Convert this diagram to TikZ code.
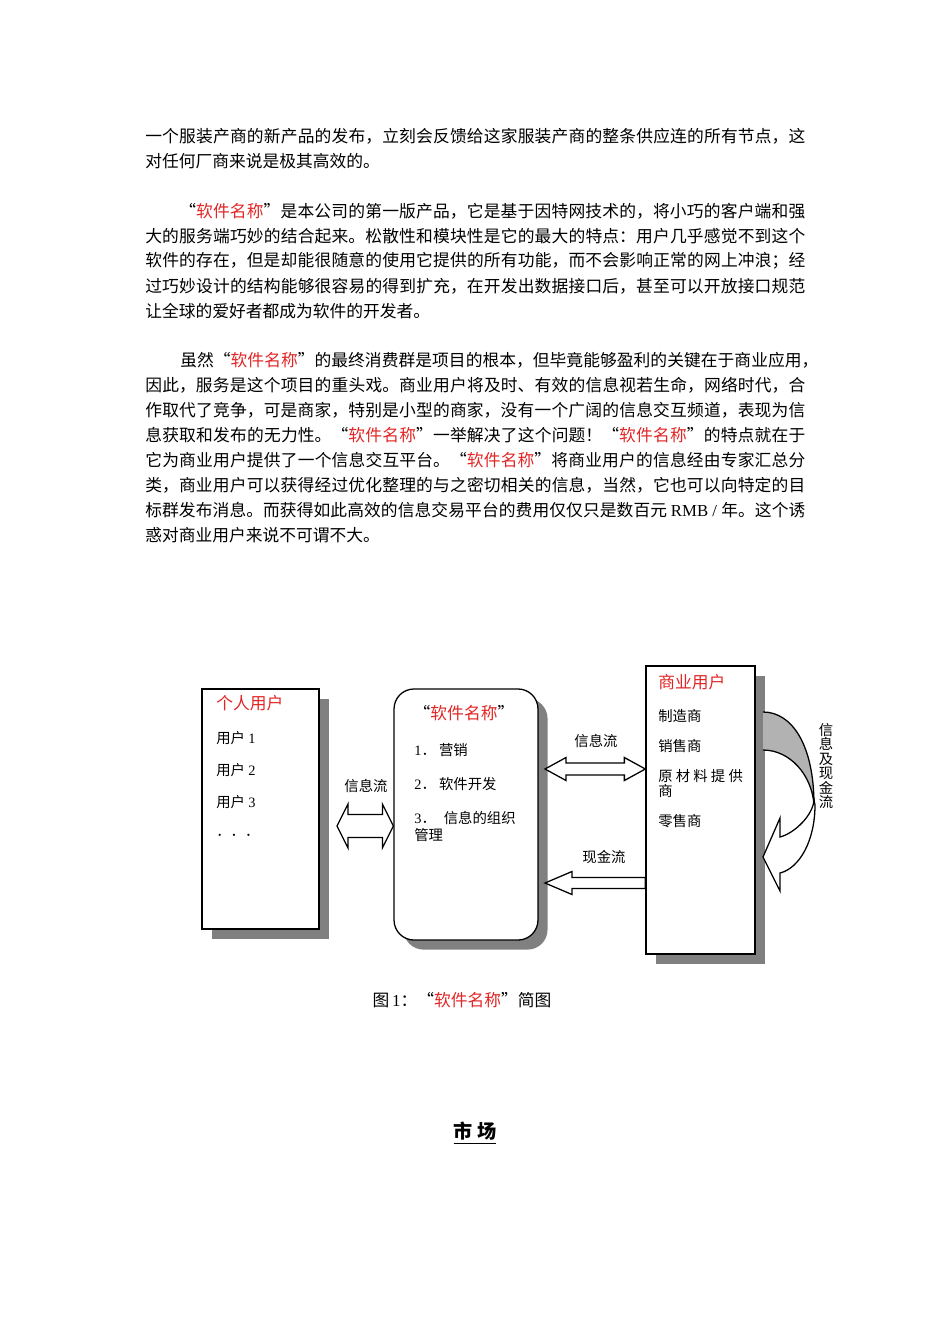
\documentclass[tikz,border=0pt]{standalone}
\usepackage{fontspec}
\setmainfont{Noto Sans CJK SC}
\newfontfamily\lat{Liberation Serif}
\usetikzlibrary{calc,shadows}
\definecolor{namered}{RGB}{226,38,38}
\newcommand{\swname}{\textcolor{namered}{软件名称}}
\newcommand{\fullline}[2]{\parbox{#1}{\parfillskip=0pt\relax #2}}
\XeTeXlinebreaklocale "zh"
\XeTeXlinebreakskip=0pt plus 2pt minus 0.3pt

\begin{document}
\begin{tikzpicture}[x=0.6266pt,y=-0.6266pt,
    textline/.style={anchor=west,inner sep=0pt,font=\fontsize{10.5pt}{12pt}\selectfont},
    userbox/.style={draw,line width=0.8pt,fill=white,
        drop shadow={shadow xshift=6pt,shadow yshift=-6pt,fill=black!50,opacity=1}},
    boxhead/.style={anchor=west,inner sep=0pt,text=namered,font=\fontsize{10.5pt}{12pt}\selectfont},
    boxitem/.style={anchor=west,inner sep=0pt,font=\fontsize{9pt}{10pt}\selectfont},
    flowlabel/.style={inner sep=0pt,font=\fontsize{9pt}{10pt}\selectfont},
    blockarrow/.style={draw,line width=0.8pt,fill=white}]
\useasboundingbox[fill=white] (0,0) rectangle (950,1344);

% text above the figure
\node[textline] (pa1) at (145,136) {\fullline{413.6pt}{一个服装产商的新产品的发布，立刻会反馈给这家服装产商的整条供应连的所有节点，这}};
\node[textline] (pa2) at (145,161) {对任何厂商来说是极其高效的。};

\node[textline] (pb1) at (179,211) {\fullline{392.3pt}{“\swname”是本公司的第一版产品，它是基于因特网技术的，将小巧的客户端和强}};
\foreach \y/\txt [count=\i from 2] in {
    236/{大的服务端巧妙的结合起来。松散性和模块性是它的最大的特点：用户几乎感觉不到这个},
    261/{软件的存在，但是却能很随意的使用它提供的所有功能，而不会影响正常的网上冲浪；经},
    286/{过巧妙设计的结构能够很容易的得到扩充，在开发出数据接口后，甚至可以开放接口规范}}
    \node[textline] (pb\i) at (145,\y) {\fullline{413.6pt}{\txt}};
\node[textline] (pb5) at (145,311) {让全球的爱好者都成为软件的开发者。};

\node[textline] (pc1) at (180,360) {\fullline{399.8pt}{虽然“\swname”的最终消费群是项目的根本，但毕竟能够盈利的关键在于商业应用，}};
\foreach \y/\txt [count=\i from 2] in {
    385/{因此，服务是这个项目的重头戏。商业用户将及时、有效的信息视若生命，网络时代，合},
    410/{作取代了竞争，可是商家，特别是小型的商家，没有一个广阔的信息交互频道，表现为信},
    435/{息获取和发布的无力性。“\swname”一举解决了这个问题！“\swname”的特点就在于},
    460/{它为商业用户提供了一个信息交互平台。“\swname”将商业用户的信息经由专家汇总分},
    485/{类，商业用户可以获得经过优化整理的与之密切相关的信息，当然，它也可以向特定的目},
    510/{标群发布消息。而获得如此高效的信息交易平台的费用仅仅只是数百元 {\lat RMB / }年。这个诱}}
    \node[textline] (pc\i) at (145,\y) {\fullline{413.6pt}{\txt}};
\node[textline] (pc8) at (145,535) {惑对商业用户来说不可谓不大。};

% the three boxes
\node[userbox,minimum width=73.3pt,minimum height=150.4pt] (pu) at (260.5,809) {};
\node[userbox,rounded corners=12.5pt,minimum width=90.2pt,minimum height=157.3pt] (sw) at (466,814.5) {};
\node[userbox,minimum width=68.3pt,minimum height=180.5pt] (biz) at (700.5,810) {};

\node[boxhead] (puhead) at (216,703) {个人用户};
\foreach \y/\txt [count=\i] in {738/{用户 {\lat 1}}, 770/{用户 {\lat 2}}, 802/{用户 {\lat 3}}, 835/{．．．}}
    \node[boxitem] (pu\i) at (216,\y) {\txt};

\node[inner sep=0pt,font=\fontsize{10.5pt}{12pt}\selectfont] (swhead) at (464,713) {“\swname”};
\foreach \y/\txt [count=\i] in {750/{{\lat 1}．\hspace{2pt}营销}, 784/{{\lat 2}．\hspace{2pt}软件开发},
    818/{{\lat 3}．\hspace{5pt}信息的组织}, 835/{管理}}
    \node[boxitem] (sw\i) at (414,\y) {\txt};

\node[boxhead] (bizhead) at (658,682) {商业用户};
\foreach \y/\txt [count=\i] in {716/{制造商}, 746/{销售商}, 776/{原\hspace{2pt}材\hspace{2pt}料\hspace{2pt}提\hspace{2pt}供},
    791/{商}, 821/{零售商}}
    \node[boxitem] (biz\i) at (658,\y) {\txt};

% block arrows between the boxes
\coordinate (l1) at (337,826);
\coordinate (l2) at (sw.west |- l1);
\coordinate (r1) at (545,769);
\coordinate (r2) at (biz.west |- r1);
\foreach \a/\b/\h/\w/\s in {l1/l2/11/22/11.5, r1/r2/21/11.5/6}
    \draw[blockarrow] (\a) -- ($(\a)+(\h,-\w)$) -- ($(\a)+(\h,-\s)$) -- ($(\b)+(-\h,-\s)$)
        -- ($(\b)+(-\h,-\w)$) -- (\b) -- ($(\b)+(-\h,\w)$) -- ($(\b)+(-\h,\s)$)
        -- ($(\a)+(\h,\s)$) -- ($(\a)+(\h,\w)$) -- cycle;
\coordinate (c1) at (545,883);
\coordinate (c2) at (biz.west |- c1);
\draw[blockarrow] (c1) -- ($(c1)+(27,-11.5)$) -- ($(c1)+(27,-5.5)$) -- ($(c2)+(0,-5.5)$)
    -- ($(c2)+(0,5.5)$) -- ($(c1)+(27,5.5)$) -- ($(c1)+(27,11.5)$) -- cycle;

\node[flowlabel] (info1) at (366,786) {信息流};
\node[flowlabel] (info2) at (596,741) {信息流};
\node[flowlabel] (cash) at (604,857) {现金流};

% curved arrow on the right
\fill[black!30] (763,712) .. controls (792,712) and (814,745) .. (814,805)
    .. controls (812,775) and (790,750) .. (763,750) -- cycle;
\draw[line width=0.8pt] (763,712) .. controls (792,712) and (814,745) .. (814,805)
    .. controls (812,775) and (790,750) .. (763,750);
\draw[blockarrow] (814,800) .. controls (813,815) and (795,833) .. (780,837) -- (780,818)
    -- (763,857) -- (780,891) -- (780,873) .. controls (800,868) and (815,840) .. (815,805) -- cycle;
\node[inner sep=0pt,align=center,font=\fontsize{9pt}{9pt}\selectfont] (both) at (826,766)
    {信\\息\\及\\现\\金\\流};

% caption and heading
\node[inner sep=0pt,font=\fontsize{10.5pt}{12pt}\selectfont] (cap) at (462,1000) {图\,{\lat 1}：“\swname”简图};
\node[inner sep=0pt,font=\fontsize{12pt}{14pt}\selectfont\bfseries] (title) at (475,1133) {\underline{市 场}};
\end{tikzpicture}
\end{document}
